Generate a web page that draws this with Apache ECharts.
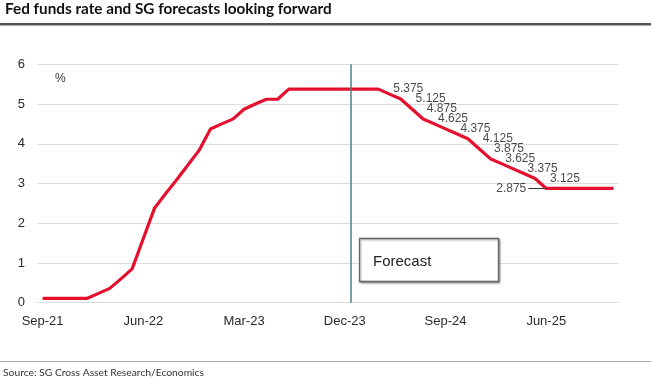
<!DOCTYPE html>
<html>
<head>
<meta charset="utf-8">
<script src="https://cdn.jsdelivr.net/npm/echarts@6/dist/echarts.min.js"></script>
<style>html,body{margin:0;padding:0;background:#fff;}#c{width:651px;height:380px;}</style>
</head>
<body>
<div id="c"></div>
<script>
var months = ['Sep-21','Oct-21','Nov-21','Dec-21',
  'Jan-22','Feb-22','Mar-22','Apr-22','May-22','Jun-22','Jul-22','Aug-22','Sep-22','Oct-22','Nov-22','Dec-22',
  'Jan-23','Feb-23','Mar-23','Apr-23','May-23','Jun-23','Jul-23','Aug-23','Sep-23','Oct-23','Nov-23','Dec-23',
  'Jan-24','Feb-24','Mar-24','Apr-24','May-24','Jun-24','Jul-24','Aug-24','Sep-24','Oct-24','Nov-24','Dec-24',
  'Jan-25','Feb-25','Mar-25','Apr-25','May-25','Jun-25','Jul-25','Aug-25','Sep-25','Oct-25','Nov-25','Dec-25'];
var rate = [0.11,0.11,0.11,0.11,
  0.11,0.235,0.36,0.6,0.85,1.615,2.38,2.75,3.1,3.47,3.84,4.37,
  4.5,4.62,4.87,5.0,5.12,5.12,5.375,5.375,5.375,5.375,5.375,5.375,
  5.375,5.375,5.375,5.25,5.125,4.875,4.625,4.5,4.375,4.25,4.125,3.875,
  3.625,3.5,3.375,3.25,3.125,2.875,2.875,2.875,2.875,2.875,2.875,2.875];
var cutLabelMonths = [32,34,35,36,38,40,41,42,44,46];
var cutLabelValues = [5.375,5.125,4.875,4.625,4.375,4.125,3.875,3.625,3.375,3.125];
var endLabelMonth = 45;
var endLabelValue = 2.875;
var forecastStart = 27.5;
var yTicks = [0,1,2,3,4,5,6];

var chart = echarts.init(document.getElementById('c'), null, {renderer:'canvas'});
var F = 'Liberation Sans, Arial, sans-serif';
chart.setOption({
  backgroundColor:'#fff',
  animation:false,
  grid:{left:37,right:32,top:64.3,bottom:77.3,containLabel:false},
  xAxis:[{
    type:'category',data:months,boundaryGap:true,
    axisLine:{show:false},axisTick:{show:false},
    axisLabel:{interval:function(i){return i%9===0;},color:'#2a2a2a',fontSize:13,fontFamily:F,margin:12}
  },{
    type:'value',min:-0.5,max:months.length-0.5,show:false
  }],
  yAxis:{
    type:'value',min:yTicks[0],max:yTicks[yTicks.length-1],interval:1,
    axisLine:{show:false},axisTick:{show:false},
    axisLabel:{color:'#2a2a2a',fontSize:13,fontFamily:F,margin:12},
    splitLine:{lineStyle:{color:'#dcdcdc',width:1}}
  },
  series:[{
    type:'line',data:rate,xAxisIndex:0,symbol:'none',
    lineStyle:{color:'#E5102E',width:3.2,join:'round'},
    z:3
  },{
    type:'line',xAxisIndex:1,data:[],
    markLine:{symbol:'none',silent:true,label:{show:false},
      lineStyle:{color:'#4E7F86',width:1.5,type:'solid'},
      data:[{xAxis:forecastStart}]}
  },{
    type:'scatter',xAxisIndex:0,symbolSize:0,
    data:cutLabelMonths.map(function(m,i){return [m,cutLabelValues[i]];}),
    label:{show:true,position:'inside',offset:[7.5,0],color:'#1a1a1a',fontSize:12,fontFamily:F,
      formatter:function(p){return p.value[1].toFixed(3);}},
    z:5
  },{
    type:'scatter',xAxisIndex:1,symbolSize:0,
    data:[[endLabelMonth,endLabelValue]],
    label:{show:true,position:'left',distance:20,color:'#1a1a1a',fontSize:12,fontFamily:F,
      formatter:function(p){return p.value[1].toFixed(3);}},
    markLine:{symbol:'none',silent:true,label:{show:false},
      lineStyle:{color:'#333',width:1,type:'solid'},
      data:[[{coord:[endLabelMonth-1.6,endLabelValue]},{coord:[endLabelMonth,endLabelValue]}]]},
    z:5
  }],
  graphic:[
    {type:'text',left:5,top:2,style:{text:'Fed funds rate and SG forecasts looking forward',font:'bold 15.3px Lato, sans-serif',fill:'#111'}},
    {type:'rect',shape:{x:0,y:23,width:651,height:2.5},style:{fill:'#555'}},
    {type:'text',left:55,top:73,style:{text:'%',font:'12px '+F,fill:'#333'}},
    {type:'rect',shape:{x:359.5,y:238.5,width:139,height:43},
      style:{fill:'#fff',stroke:'#666',lineWidth:1.3,shadowBlur:2,shadowOffsetX:1,shadowOffsetY:1,shadowColor:'rgba(0,0,0,0.35)'},z:10},
    {type:'text',x:373,y:262,style:{text:'Forecast',font:'15px '+F,fill:'#222',verticalAlign:'middle'},z:11},
    {type:'rect',shape:{x:0,y:361,width:651,height:1},style:{fill:'#aaa'}},
    {type:'text',x:3,y:372.5,style:{text:'Source: SG Cross Asset Research/Economics',font:'10.3px Lato, sans-serif',fill:'#333',verticalAlign:'middle'}}
  ]
});
</script>
</body>
</html>
